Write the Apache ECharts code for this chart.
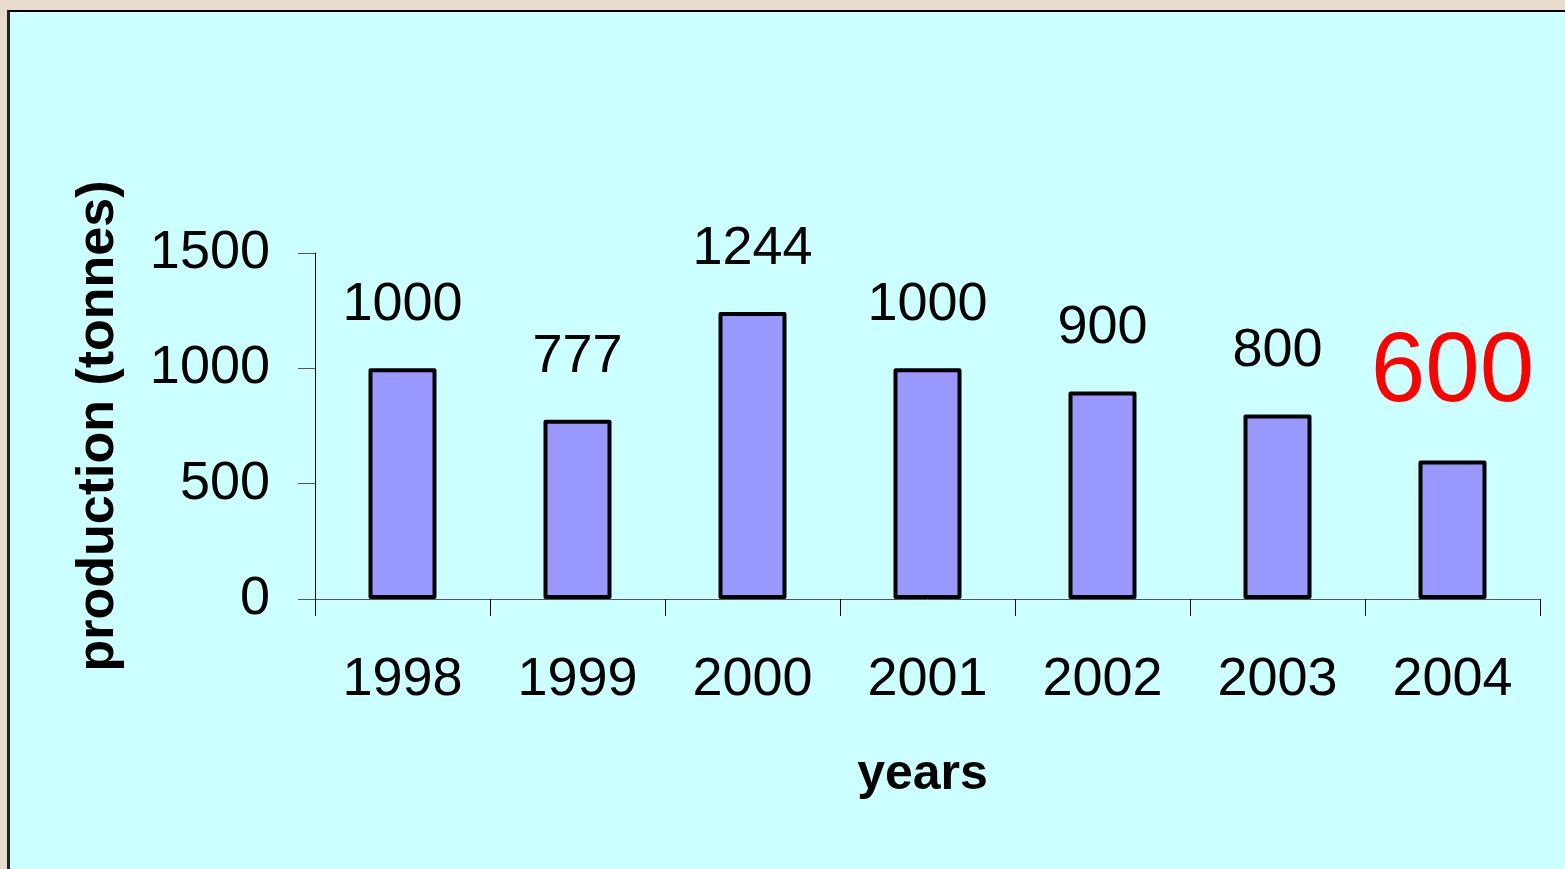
<!DOCTYPE html>
<html>
<head>
<meta charset="utf-8">
<script src="https://cdn.jsdelivr.net/npm/echarts@6/dist/echarts.min.js"></script>
<style>
  html, body { margin: 0; padding: 0; width: 1565px; height: 869px; overflow: hidden; background: #E6DBCD; }
  #panel { position: absolute; left: 7px; top: 10px; width: 1558px; height: 859px; background: #CCFFFF;
           border-left: 3px solid #222; border-top: 2px solid #000; box-sizing: border-box; }
  #chart { position: absolute; left: 0; top: 0; width: 1565px; height: 869px; }
</style>
</head>
<body>
<div id="panel"></div>
<div id="chart"></div>
<script>
const categories = ['1998', '1999', '2000', '2001', '2002', '2003', '2004'];
const production = [1000, 777, 1244, 1000, 900, 800, 600];
const yTicks = { min: 0, max: 1500, interval: 500 };
const highlightIndex = 6;

const FONT = 'Liberation Sans, Arial, sans-serif';
const chart = echarts.init(document.getElementById('chart'), null, { renderer: 'canvas' });

const seriesData = production.map((v, i) => {
  if (i === highlightIndex) {
    return { value: v, label: { fontSize: 98, color: '#FF0000', distance: 38 } };
  }
  return v;
});

chart.setOption({
  backgroundColor: 'transparent',
  animation: false,
  grid: { left: 315, right: 25, top: 253, bottom: 270, containLabel: false },
  xAxis: {
    type: 'category',
    data: categories,
    name: 'years',
    nameLocation: 'middle',
    nameGap: 151,
    nameTextStyle: { fontFamily: FONT, fontSize: 50, fontWeight: 'bold', color: '#000', padding: [0, 10, 0, 0] },
    axisLine: { show: true, lineStyle: { color: '#555', width: 1 } },
    axisTick: { show: true, inside: false, length: 17, alignWithLabel: false, lineStyle: { color: '#000', width: 1 } },
    axisLabel: { fontFamily: FONT, fontSize: 54, color: '#000', margin: 54, interval: 0 },
    splitLine: { show: false }
  },
  yAxis: {
    type: 'value',
    min: yTicks.min,
    max: yTicks.max,
    interval: yTicks.interval,
    name: 'production (tonnes)',
    nameLocation: 'middle',
    nameGap: 190,
    nameRotate: 90,
    nameTextStyle: { fontFamily: FONT, fontSize: 52, fontWeight: 'bold', color: '#000' },
    axisLine: { show: true, lineStyle: { color: '#000', width: 1 } },
    axisTick: { show: true, inside: false, length: 17, lineStyle: { color: '#555', width: 1 } },
    axisLabel: { fontFamily: FONT, fontSize: 54, color: '#000', margin: 45, padding: [0, 0, 11, 0],
                 formatter: (v) => String(v) },
    splitLine: { show: false }
  },
  series: [{
    type: 'bar',
    data: seriesData,
    barWidth: 68,
    itemStyle: { color: '#9999FF', borderColor: '#000', borderWidth: 4, borderJoin: 'round' },
    label: {
      show: true,
      position: 'top',
      distance: 36,
      fontFamily: FONT,
      fontSize: 54,
      color: '#000'
    }
  }]
});
</script>
</body>
</html>
